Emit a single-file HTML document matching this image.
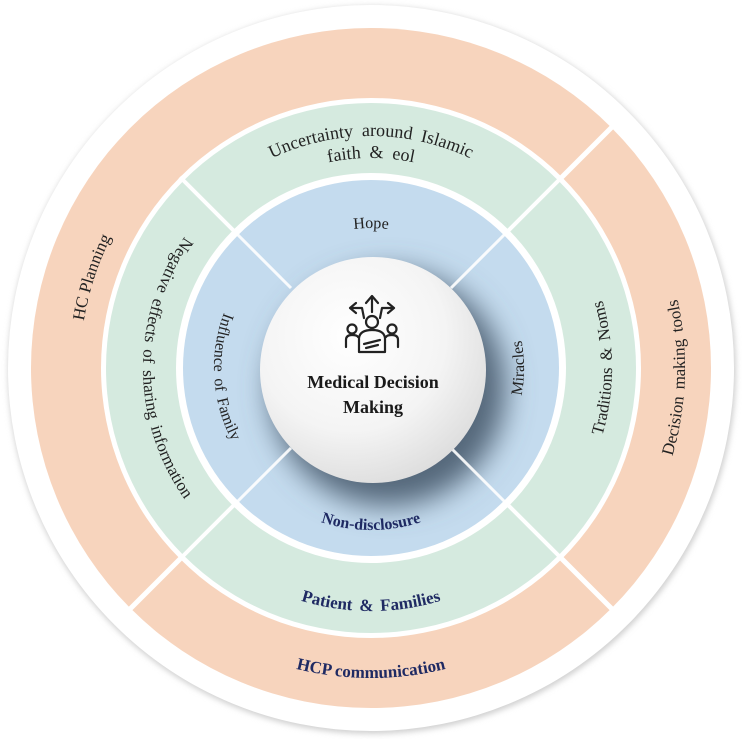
<!DOCTYPE html>
<html><head><meta charset="utf-8"><style>
html,body{margin:0;padding:0;background:#fff;}
svg{display:block;}
text{font-family:"Liberation Serif",serif;}
</style></head><body>
<svg width="742" height="739" viewBox="0 0 742 739" xmlns="http://www.w3.org/2000/svg">
<defs>
<filter id="osh" x="-10%" y="-10%" width="120%" height="120%"><feGaussianBlur stdDeviation="3"/></filter>
<filter id="ssh" x="-50%" y="-50%" width="200%" height="200%"><feGaussianBlur stdDeviation="14"/></filter>
<radialGradient id="sg" cx="40%" cy="35%" r="70%">
<stop offset="0" stop-color="#ffffff"/><stop offset="0.6" stop-color="#f4f4f4"/><stop offset="1" stop-color="#dcdcdc"/>
</radialGradient>
<clipPath id="blueclip"><circle cx="371" cy="368" r="188"/></clipPath>
</defs>

<circle cx="372" cy="370" r="364" fill="#d0d0d0" filter="url(#osh)"/>
<circle cx="371" cy="368" r="363" fill="#ffffff"/>

<circle cx="371" cy="368" r="340" fill="#f7d4bd"/>
<circle cx="371" cy="368" r="270" fill="#ffffff"/>
<circle cx="371" cy="368" r="265" fill="#d5eadf"/>
<circle cx="371" cy="368" r="195" fill="#ffffff"/>
<circle cx="371" cy="368" r="188" fill="#c4dbee"/>

<g clip-path="url(#blueclip)">
<circle cx="388" cy="388" r="118" fill="#55687a" filter="url(#ssh)"/>
</g>

<g stroke="#ffffff" stroke-width="5">
<line x1="560" y1="179" x2="615" y2="124"/>
<line x1="560" y1="557" x2="615" y2="612"/>
<line x1="182" y1="557" x2="127" y2="612"/>
</g>
<g stroke="#ffffff" stroke-width="4">
<line x1="507" y1="232" x2="562" y2="177"/>
<line x1="507" y1="504" x2="562" y2="559"/>
<line x1="235" y1="504" x2="180" y2="559"/>
<line x1="235" y1="232" x2="180" y2="177"/>
</g>
<g stroke="#ffffff" stroke-width="3" opacity="0.9">
<line x1="451" y1="288" x2="505" y2="234"/>
<line x1="451" y1="448" x2="505" y2="502"/>
<line x1="291" y1="448" x2="237" y2="502"/>
<line x1="291" y1="288" x2="237" y2="234"/>
</g>

<circle cx="373" cy="370" r="113" fill="url(#sg)"/>

<g fill="none" stroke="#222" stroke-width="2.2" stroke-linejoin="round" stroke-linecap="round">
<path d="M 372 312 L 372 298 M 366 303 L 372 296 L 378 303"/>
<path d="M 364 318 L 362 308 L 352 308 M 356 303 L 350 308 L 356 313"/>
<path d="M 380 318 L 382 308 L 392 308 M 388 303 L 394 308 L 388 313"/>
<circle cx="372" cy="322" r="6"/>
<path d="M 359 352 L 359 338 Q 360 330 372 330 Q 384 330 385 338 L 385 352 Z"/>
<path d="M 364 344 L 380 340 M 366 348 L 378 345"/>
<circle cx="352" cy="329" r="4.5"/>
<path d="M 346 347 L 346 340 Q 346 335 352 335 Q 357 335 358 337"/>
<circle cx="392" cy="329" r="4.5"/>
<path d="M 398 347 L 398 340 Q 398 335 392 335 Q 387 335 386 337"/>
</g>

<text x="373" y="388" text-anchor="middle" font-size="18" font-weight="bold" fill="#1a1a1a">Medical Decision</text>
<text x="373" y="413" text-anchor="middle" font-size="18" font-weight="bold" fill="#1a1a1a">Making</text>

<defs>
<path id="t1" d="M 139 368 A 232 232 0 0 1 603 368"/>
<path id="t2" d="M 161 368 A 210 210 0 0 1 581 368"/>
<path id="t3" d="M 231 368 A 140 140 0 0 1 511 368"/>
<path id="b1" d="M 209 368 A 162 162 0 0 0 533 368"/>
<path id="b2" d="M 128 368 A 243 243 0 0 0 614 368"/>
<path id="b3" d="M 61 368 A 310 310 0 0 0 681 368"/>
<path id="l1" d="M 371 659 A 291 291 0 0 1 371 77"/>
<path id="l2" d="M 371 140 A 228 228 0 0 0 371 596"/>
<path id="l3" d="M 371 211 A 157 157 0 0 0 371 525"/>
<path id="r1" d="M 371 521 A 153 153 0 0 0 371 215"/>
<path id="r2" d="M 371 609 A 241 241 0 0 0 371 127"/>
<path id="r3" d="M 371 682 A 314 314 0 0 0 371 54"/>
</defs>

<g font-size="17" fill="#222">
<text font-size="18" word-spacing="4"><textPath href="#t1" startOffset="50%" text-anchor="middle">Uncertainty around Islamic</textPath></text>
<text font-size="18" word-spacing="4"><textPath href="#t2" startOffset="50%" text-anchor="middle">faith &amp; eol</textPath></text>
<text font-size="16"><textPath href="#t3" startOffset="50%" text-anchor="middle">Hope</textPath></text>
<text font-size="17"><textPath href="#l1" startOffset="60%" text-anchor="middle">HC Planning</textPath></text>
<text font-size="17" word-spacing="3"><textPath href="#l2" startOffset="50%" text-anchor="middle">Negative effects of sharing information</textPath></text>
<text font-size="16" word-spacing="3"><textPath href="#l3" startOffset="52%" text-anchor="middle">Influence of Family</textPath></text>
<text font-size="16"><textPath href="#r1" startOffset="50%" text-anchor="middle">Miracles</textPath></text>
<text font-size="17" word-spacing="3"><textPath href="#r2" startOffset="50%" text-anchor="middle">Traditions &amp; Noms</textPath></text>
<text font-size="17" word-spacing="3"><textPath href="#r3" startOffset="49%" text-anchor="middle">Decision making tools</textPath></text>
</g>
<g font-size="17" font-weight="bold" fill="#1f2a63">
<text font-size="16"><textPath href="#b1" startOffset="50%" text-anchor="middle">Non-disclosure</textPath></text>
<text word-spacing="3"><textPath href="#b2" startOffset="50%" text-anchor="middle">Patient &amp; Families</textPath></text>
<text><textPath href="#b3" startOffset="50%" text-anchor="middle">HCP communication</textPath></text>
</g>
</svg>
</body></html>
